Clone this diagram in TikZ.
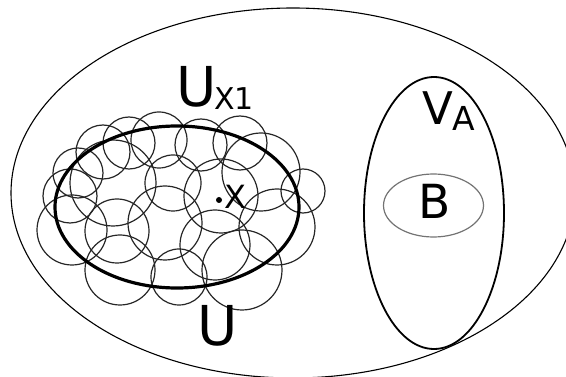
\documentclass[tikz,border=0pt]{standalone}
\usepackage{fontspec}
\setmainfont{DejaVu Sans}
\begin{document}
\begin{tikzpicture}[x=1pt,y=-1pt,
  thin circle/.style={draw=black!85, line width=1.2pt},
  lbl/.style={inner sep=0pt, anchor=base west}]
\useasboundingbox (0,0) rectangle (566,377);
% outer ellipse
\draw[line width=1.1pt] (293,193) ellipse [x radius=282pt, y radius=185pt];
% V_A ellipse and B
\draw[line width=1.8pt] (434,213) ellipse [x radius=70pt, y radius=136pt];
\draw[draw=black!55, line width=1.2pt] (433.5,205.5) ellipse [x radius=50pt, y radius=31.5pt];
% small circles
\foreach \cx/\cy/\r in {103/152/27, 129/143/26, 159/140/28, 201/145/26, 240/143/27,
  78/173/25, 113/183/43, 173/183/28, 221/196/37, 261/172/39, 303/191/22,
  70/196/27, 72/230/35, 117/231/32, 165/223/37, 277/227/38, 215/245/35,
  120/270/35, 179/277/28, 242/270/40}
  \draw[thin circle] (\cx,\cy) circle [radius=\r pt];
% bold ellipse U
\draw[line width=3.2pt] (177,207) ellipse [x radius=122pt, y radius=81pt];
% point x
\fill (219,200) circle [radius=3pt];
% labels
\node[lbl] (ux) at (176,107) {\fontsize{55}{60}\selectfont U};
\node[lbl] (ux1) at (214,110) {\fontsize{30}{33}\selectfont X1};
\node[lbl] (x) at (224,209) {\fontsize{32}{35}\selectfont X};
\node[lbl] (va) at (422,125) {\fontsize{45}{50}\selectfont V};
\node[lbl] (vaa) at (452,131) {\fontsize{33}{36}\selectfont A};
\node[lbl] (b) at (418,219) {\fontsize{47}{50}\selectfont B};
\node[lbl] (u) at (197,345) {\fontsize{55}{60}\selectfont U};
\end{tikzpicture}
\end{document}
